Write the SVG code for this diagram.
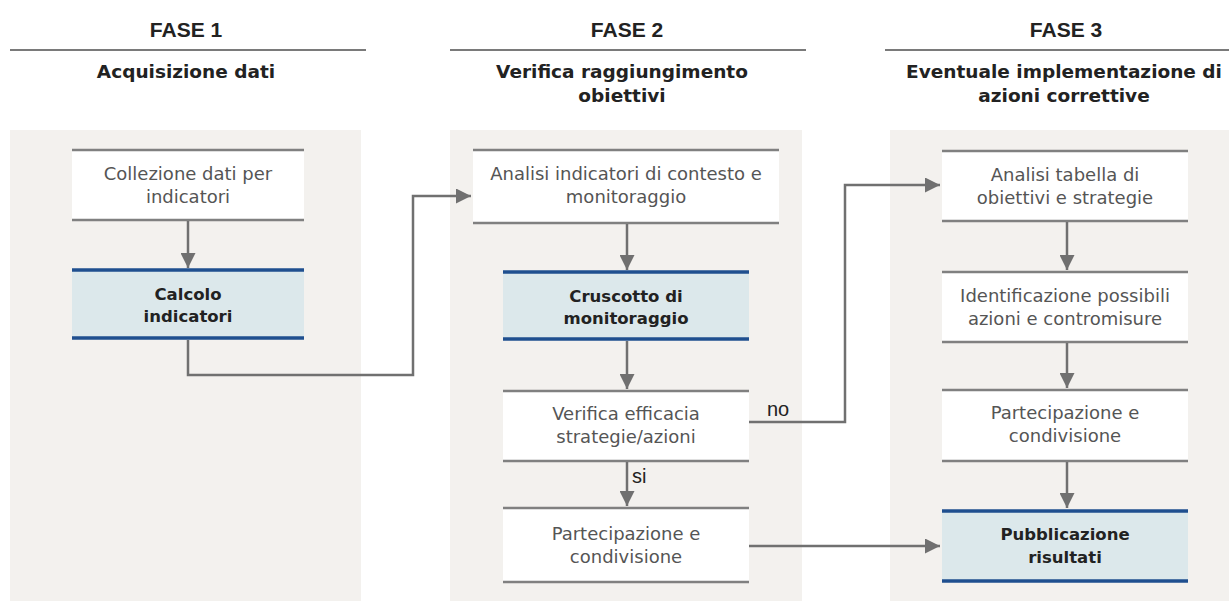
<svg xmlns="http://www.w3.org/2000/svg" width="1229" height="601" viewBox="0 0 1229 601">
<defs>
<style>
.bg{fill:#f3f1ee}
.hl{stroke:#7a7a7a;stroke-width:2}
.ph{font-family:"Liberation Sans",Arial,sans-serif;font-weight:bold;font-size:21px;fill:#222;text-anchor:middle}
.ps{font-family:"DejaVu Sans",sans-serif;font-weight:bold;font-size:18.5px;fill:#222;text-anchor:middle}
.wb{fill:#ffffff}
.gl{stroke:#808080;stroke-width:2.5}
.bb{fill:#dce8eb}
.bl{stroke:#1f4f8f;stroke-width:3.5}
.t{font-family:"DejaVu Sans",sans-serif;font-size:18px;fill:#555;text-anchor:middle}
.tb{font-family:"DejaVu Sans",sans-serif;font-size:16.5px;font-weight:bold;fill:#222;text-anchor:middle}
.lbl{font-family:"Liberation Sans",Arial,sans-serif;font-size:20px;fill:#222}
.c{fill:none;stroke:#707070;stroke-width:2.5}
</style>
<marker id="ah" viewBox="0 0 10 10" refX="10" refY="5" markerWidth="6" markerHeight="6" markerUnits="strokeWidth" orient="auto">
<path d="M0,0 L10,5 L0,10 z" fill="#707070"/>
</marker>
</defs>
<rect width="1229" height="601" fill="#ffffff"/>

<g id="phase-backgrounds">
<rect class="bg" x="10" y="130" width="351" height="471"/>
<rect class="bg" x="450" y="130" width="352" height="471"/>
<rect class="bg" x="890" y="130" width="339" height="471"/>
</g>

<g id="phase1-header">
<text class="ph" x="186" y="37">FASE 1</text>
<line class="hl" x1="10" y1="50" x2="366" y2="50"/>
<text class="ps" x="186" y="78">Acquisizione dati</text>
</g>
<g id="phase2-header">
<text class="ph" x="627" y="37">FASE 2</text>
<line class="hl" x1="450" y1="50" x2="806" y2="50"/>
<text class="ps" x="622" y="78">Verifica raggiungimento</text>
<text class="ps" x="622" y="102">obiettivi</text>
</g>
<g id="phase3-header">
<text class="ph" x="1066" y="37">FASE 3</text>
<line class="hl" x1="885" y1="50" x2="1229" y2="50"/>
<text class="ps" x="1064" y="78">Eventuale implementazione di</text>
<text class="ps" x="1064" y="102">azioni correttive</text>
</g>

<g id="n-collezione">
<rect class="wb" x="72" y="150" width="232" height="70"/>
<line class="gl" x1="72" y1="150" x2="304" y2="150"/>
<line class="gl" x1="72" y1="220" x2="304" y2="220"/>
<text class="t" x="188" y="180">Collezione dati per</text>
<text class="t" x="188" y="203">indicatori</text>
</g>
<g id="n-calcolo">
<rect class="bb" x="72" y="270" width="232" height="68"/>
<line class="bl" x1="72" y1="270" x2="304" y2="270"/>
<line class="bl" x1="72" y1="338" x2="304" y2="338"/>
<text class="tb" x="188" y="300">Calcolo</text>
<text class="tb" x="188" y="322">indicatori</text>
</g>

<g id="n-analisi-indicatori">
<rect class="wb" x="473" y="150" width="306" height="73"/>
<line class="gl" x1="473" y1="150" x2="779" y2="150"/>
<line class="gl" x1="473" y1="223" x2="779" y2="223"/>
<text class="t" x="626" y="180">Analisi indicatori di contesto e</text>
<text class="t" x="626" y="203">monitoraggio</text>
</g>
<g id="n-cruscotto">
<rect class="bb" x="503" y="272" width="246" height="67"/>
<line class="bl" x1="503" y1="272" x2="749" y2="272"/>
<line class="bl" x1="503" y1="339" x2="749" y2="339"/>
<text class="tb" x="626" y="302">Cruscotto di</text>
<text class="tb" x="626" y="324">monitoraggio</text>
</g>
<g id="n-verifica">
<rect class="wb" x="503" y="391" width="246" height="70"/>
<line class="gl" x1="503" y1="391" x2="749" y2="391"/>
<line class="gl" x1="503" y1="461" x2="749" y2="461"/>
<text class="t" x="626" y="420">Verifica efficacia</text>
<text class="t" x="626" y="443">strategie/azioni</text>
</g>
<g id="n-partecipazione2">
<rect class="wb" x="503" y="508" width="246" height="74"/>
<line class="gl" x1="503" y1="508" x2="749" y2="508"/>
<line class="gl" x1="503" y1="582" x2="749" y2="582"/>
<text class="t" x="626" y="540">Partecipazione e</text>
<text class="t" x="626" y="563">condivisione</text>
</g>

<g id="n-analisi-tabella">
<rect class="wb" x="942" y="151" width="246" height="70"/>
<line class="gl" x1="942" y1="151" x2="1188" y2="151"/>
<line class="gl" x1="942" y1="221" x2="1188" y2="221"/>
<text class="t" x="1065" y="181">Analisi tabella di</text>
<text class="t" x="1065" y="204">obiettivi e strategie</text>
</g>
<g id="n-identificazione">
<rect class="wb" x="942" y="272" width="246" height="70"/>
<line class="gl" x1="942" y1="272" x2="1188" y2="272"/>
<line class="gl" x1="942" y1="342" x2="1188" y2="342"/>
<text class="t" x="1065" y="302">Identificazione possibili</text>
<text class="t" x="1065" y="325">azioni e contromisure</text>
</g>
<g id="n-partecipazione3">
<rect class="wb" x="942" y="390" width="246" height="71"/>
<line class="gl" x1="942" y1="390" x2="1188" y2="390"/>
<line class="gl" x1="942" y1="461" x2="1188" y2="461"/>
<text class="t" x="1065" y="419">Partecipazione e</text>
<text class="t" x="1065" y="442">condivisione</text>
</g>
<g id="n-pubblicazione">
<rect class="bb" x="942" y="511" width="246" height="70"/>
<line class="bl" x1="942" y1="511" x2="1188" y2="511"/>
<line class="bl" x1="942" y1="581" x2="1188" y2="581"/>
<text class="tb" x="1065" y="540">Pubblicazione</text>
<text class="tb" x="1065" y="563">risultati</text>
</g>

<g id="connectors">
<line class="c" x1="188" y1="221" x2="188" y2="268" marker-end="url(#ah)"/>
<polyline class="c" points="188,340 188,375 413,375 413,196 471,196" marker-end="url(#ah)"/>
<line class="c" x1="627" y1="224" x2="627" y2="270" marker-end="url(#ah)"/>
<line class="c" x1="627" y1="341" x2="627" y2="389" marker-end="url(#ah)"/>
<line class="c" x1="627" y1="462" x2="627" y2="506" marker-end="url(#ah)"/>
<polyline class="c" points="749,422 845,422 845,185 940,185" marker-end="url(#ah)"/>
<line class="c" x1="749" y1="546" x2="940" y2="546" marker-end="url(#ah)"/>
<line class="c" x1="1067" y1="222" x2="1067" y2="270" marker-end="url(#ah)"/>
<line class="c" x1="1067" y1="343" x2="1067" y2="388" marker-end="url(#ah)"/>
<line class="c" x1="1067" y1="462" x2="1067" y2="508" marker-end="url(#ah)"/>
<text class="lbl" x="767" y="416">no</text>
<text class="lbl" x="632" y="483">si</text>
</g>
</svg>
